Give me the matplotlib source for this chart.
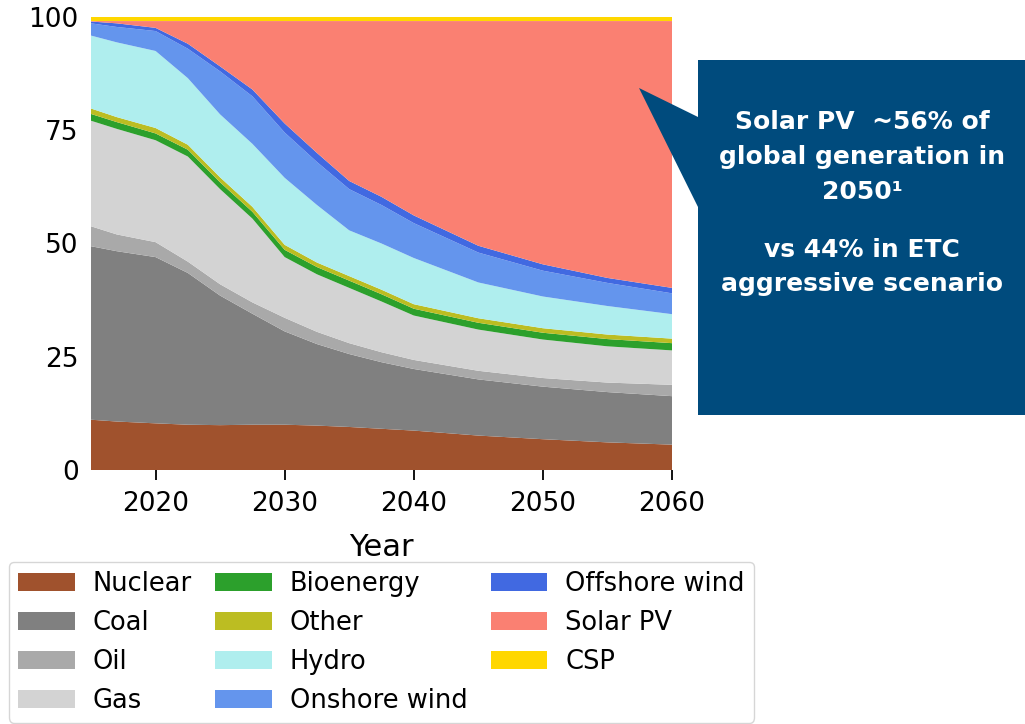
import matplotlib
matplotlib.use("Agg")
import matplotlib.pyplot as plt
from matplotlib.patches import Polygon

# share of global electricity generation (%) by source
years = [2015, 2017, 2020, 2022.5, 2025, 2027.5, 2030, 2032.5, 2035, 2037.5, 2040, 2045, 2050, 2055, 2060]
nuclear   = [11.1, 10.7, 10.3, 10.0,  9.9, 10.0, 10.0,  9.8,  9.5,  9.1,  8.7,  7.6,  6.8,  6.1,  5.6]
coal      = [38.3, 37.6, 36.7, 33.5, 28.6, 24.5, 20.6, 18.0, 16.1, 14.7, 13.6, 12.4, 11.6, 11.1, 10.7]
oil       = [ 4.4,  3.7,  3.3,  2.5,  2.5,  2.5,  3.0,  2.7,  2.4,  2.2,  2.0,  1.9,  1.9,  2.1,  2.5]
gas       = [23.3, 23.3, 22.5, 23.2, 21.0, 18.5, 13.4, 12.7, 12.2, 11.2,  9.8,  9.1,  8.5,  8.0,  7.6]
bioenergy = [ 1.5,  1.5,  1.5,  1.5,  1.5,  1.5,  1.6,  1.6,  1.6,  1.6,  1.5,  1.5,  1.5,  1.6,  1.6]
other     = [ 1.2,  1.1,  1.2,  1.1,  1.1,  1.1,  1.1,  1.0,  1.0,  1.0,  1.0,  1.0,  1.0,  1.0,  1.0]
hydro     = [16.1, 16.5, 17.0, 14.7, 13.9, 13.9, 14.8, 12.7, 10.1, 10.2, 10.2,  7.9,  7.0,  6.3,  5.4]
onshore   = [ 2.7,  3.4,  4.4,  6.5,  9.5, 10.5, 10.0,  9.5,  9.1,  8.5,  7.7,  6.6,  5.7,  5.1,  4.6]
offshore  = [ 0.4,  0.8,  0.7,  1.1,  1.1,  1.5,  2.0,  2.0,  1.8,  1.8,  1.7,  1.5,  1.4,  1.1,  1.2]
solar_pv  = [ 0.1,  0.5,  1.5,  5.0, 10.0, 15.1, 22.6, 29.1, 35.3, 38.8, 42.9, 49.6, 53.7, 56.7, 58.9]
csp       = [ 0.9,  0.9,  0.9,  0.9,  0.9,  0.9,  0.9,  0.9,  0.9,  0.9,  0.9,  0.9,  0.9,  0.9,  0.9]

labels = ["Nuclear", "Coal", "Oil", "Gas", "Bioenergy", "Other", "Hydro",
          "Onshore wind", "Offshore wind", "Solar PV", "CSP"]
colors = ["#A0522D", "#808080", "#A9A9A9", "#D3D3D3", "#2CA02C", "#BCBD22",
          "#AFEEEE", "#6495ED", "#4169E1", "#FA8072", "#FFD700"]

W, H = 1025, 724
fig = plt.figure(figsize=(W / 100, H / 100), dpi=100)
ax = fig.add_axes([91 / W, 1 - 470 / H, 581 / W, 453 / H])

ax.stackplot(years, nuclear, coal, oil, gas, bioenergy, other, hydro,
             onshore, offshore, solar_pv, csp, labels=labels, colors=colors)
ax.set_xlim(2015, 2060)
ax.set_ylim(0, 100)
ax.set_xticks([2020, 2030, 2040, 2050, 2060])
ax.set_yticks([0, 25, 50, 75, 100])
for s in ax.spines.values():
    s.set_visible(False)
ax.tick_params(axis="x", length=7, width=1.3, labelsize=19, pad=8)
ax.tick_params(axis="y", length=0, labelsize=19, pad=9)
ax.set_xlabel("Year", fontsize=22, labelpad=12)

ax.legend(loc="upper center", bbox_to_anchor=(0.5, -92 / 453), ncol=3, fontsize=18.5,
          handlelength=2.2, handletextpad=0.7, columnspacing=0.9,
          labelspacing=0.5, borderpad=0.35, borderaxespad=0)

# callout box with pointer
def px(x, y):
    return (x / W, 1 - y / H)

box = [px(698, 60), px(1030, 60), px(1030, 415), px(698, 415),
       px(698, 207), px(639, 88), px(698, 117)]
fig.patches.append(Polygon(box, closed=True, transform=fig.transFigure,
                           facecolor="#004B7D", edgecolor="none"))
fig.text(*px(862, 157), "Solar PV  ~56% of\nglobal generation in\n2050\u00b9",
         ha="center", va="center", color="white", fontsize=18,
         fontweight="bold", linespacing=1.57)
fig.text(*px(862, 267), "vs 44% in ETC\naggressive scenario",
         ha="center", va="center", color="white", fontsize=18,
         fontweight="bold", linespacing=1.57)

fig.savefig("out.png", dpi=100)
